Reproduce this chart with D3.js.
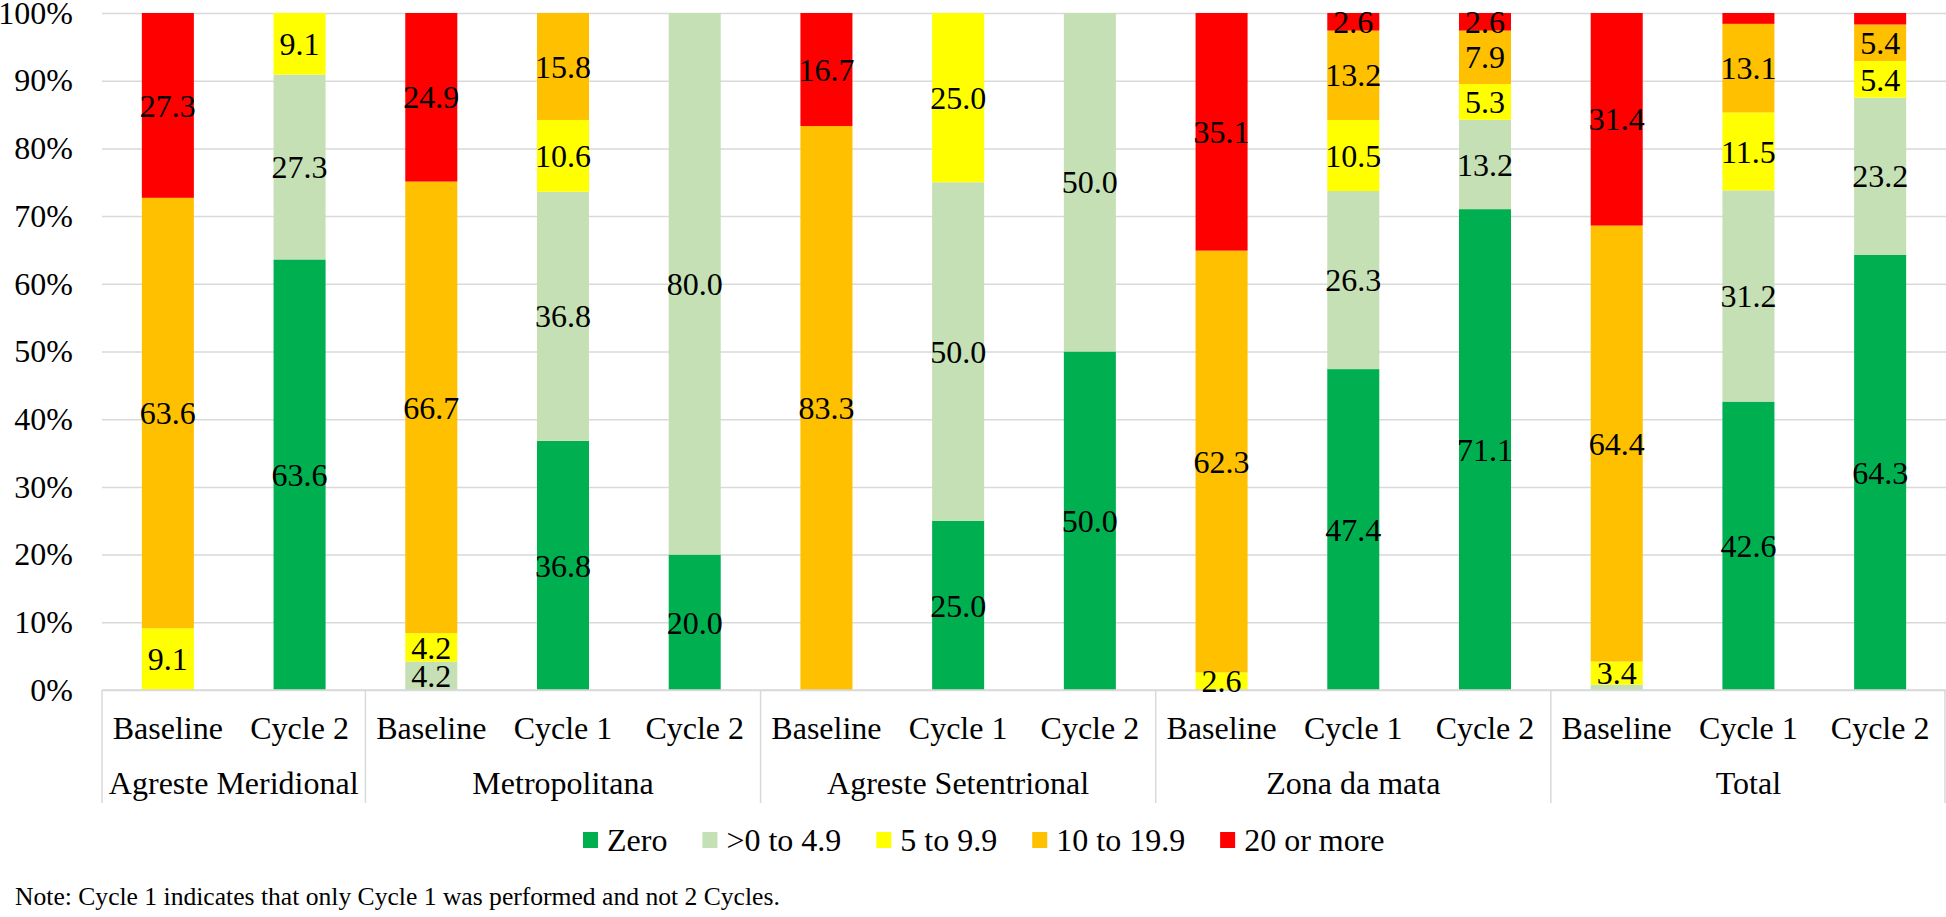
<!DOCTYPE html>
<html>
<head>
<meta charset="utf-8">
<script src="https://cdn.jsdelivr.net/npm/d3@7/dist/d3.min.js"></script>
<style>
  html, body { margin: 0; padding: 0; background: #fff; }
  svg { display: block; }
</style>
</head>
<body>
<svg id="chart" width="1946" height="917"></svg>
<script>
// ---- DATA ----
const groups = ["Agreste Meridional", "Metropolitana", "Agreste Setentrional", "Zona da mata", "Total"];
const groupPeriods = [
  ["Baseline", "Cycle 2"],
  ["Baseline", "Cycle 1", "Cycle 2"],
  ["Baseline", "Cycle 1", "Cycle 2"],
  ["Baseline", "Cycle 1", "Cycle 2"],
  ["Baseline", "Cycle 1", "Cycle 2"]
];
const seriesNames = ["Zero", ">0 to 4.9", "5 to 9.9", "10 to 19.9", "20 or more"];
const seriesColors = ["#00b050", "#c5e0b4", "#ffff00", "#ffc000", "#ff0000"];
const zeroVals  = [0, 63.6,   0, 36.8, 20.0,   0, 25.0, 50.0,   0, 47.4, 71.1,   0, 42.6, 64.3];
const lowVals   = [0, 27.3, 4.2, 36.8, 80.0,   0, 50.0, 50.0,   0, 26.3, 13.2, 0.8, 31.2, 23.2];
const midVals   = [9.1, 9.1, 4.2, 10.6,   0,   0, 25.0,    0, 2.6, 10.5,  5.3, 3.4, 11.5,  5.4];
const highVals  = [63.6, 0, 66.7, 15.8,   0, 83.3,   0,    0, 62.3, 13.2, 7.9, 64.4, 13.1, 5.4];
const topVals   = [27.3, 0, 24.9,    0,   0, 16.7,   0,    0, 35.1,  2.6, 2.6, 31.4,  1.6, 1.7];
const yTickLabels = ["0%", "10%", "20%", "30%", "40%", "50%", "60%", "70%", "80%", "90%", "100%"];
const noteText = "Note: Cycle 1 indicates that only Cycle 1 was performed and not 2 Cycles.";

// ---- BUILD TABLE ----
const seriesArrays = [zeroVals, lowVals, midVals, highVals, topVals];
const rows = [];
groups.forEach((g, gi) => {
  groupPeriods[gi].forEach(p => {
    const i = rows.length;
    const r = { key: g + "|" + p, group: g, period: p };
    seriesNames.forEach((s, si) => { r[s] = seriesArrays[si][i]; });
    rows.push(r);
  });
});

// ---- LAYOUT ----
const FONT = "'Liberation Serif'";
const svg = d3.select("#chart");
const plotLeft = 102, plotRight = 1946, plotTop = 13, plotBottom = 690;
const fontSize = 32;
function styleText(sel, size) {
  return sel.style("font-family", FONT).style("font-size", (size || fontSize) + "px").attr("fill", "#000");
}

const x = d3.scaleBand().domain(rows.map(r => r.key)).range([plotLeft, plotRight])
  .paddingInner(0.605).paddingOuter(0.3025);
const y = d3.scaleLinear().domain([0, 1]).range([plotBottom, plotTop]);
const color = d3.scaleOrdinal().domain(seriesNames).range(seriesColors);

const stack = d3.stack().keys(seriesNames).offset(d3.stackOffsetExpand);
const stacked = stack(rows);

// gridlines + y labels
const yAxis = d3.axisLeft(y).tickValues(d3.range(0, 11).map(v => v / 10))
  .tickFormat((d, i) => yTickLabels[i])
  .tickSize(-(plotRight - plotLeft)).tickPadding(29);
const ya = svg.append("g").attr("transform", `translate(${plotLeft},0)`).call(yAxis);
ya.select(".domain").remove();
ya.selectAll(".tick line").attr("stroke", "#d9d9d9").attr("stroke-width", 1.5);
styleText(ya.selectAll(".tick text"));

// bars
const layer = svg.append("g").selectAll("g").data(stacked).join("g")
  .attr("fill", d => color(d.key));
layer.selectAll("rect").data(d => d.map(v => Object.assign(v, { series: d.key })))
  .join("rect")
  .attr("x", d => x(d.data.key))
  .attr("width", x.bandwidth())
  .attr("y", d => y(d[1]))
  .attr("height", d => Math.max(0, y(d[0]) - y(d[1])));

// x axis line
svg.append("line").attr("x1", plotLeft).attr("x2", plotRight)
  .attr("y1", plotBottom).attr("y2", plotBottom)
  .attr("stroke", "#d9d9d9").attr("stroke-width", 1.5);

// data labels
const labelG = svg.append("g");
stacked.forEach(s => {
  s.forEach(d => {
    const v = d.data[s.key];
    if (v < 2) return;
    styleText(labelG.append("text")
      .attr("x", x(d.data.key) + x.bandwidth() / 2)
      .attr("y", (y(d[0]) + y(d[1])) / 2)
      .attr("dy", "0.35em")
      .attr("text-anchor", "middle"))
      .text(v.toFixed(1));
  });
});

// category labels
styleText(svg.append("g").selectAll("text").data(rows).join("text")
  .attr("x", d => x(d.key) + x.bandwidth() / 2)
  .attr("y", 739)
  .attr("text-anchor", "middle"))
  .text(d => d.period);

// group labels and separators
const step = x.step();
const sepTop = plotBottom, sepBottom = 803;
let idx = 0;
const boundaries = [];
groups.forEach((g, gi) => {
  const first = rows[idx], last = rows[idx + groupPeriods[gi].length - 1];
  const x0 = x(first.key) - (step - x.bandwidth()) / 2;
  const x1 = x(last.key) + x.bandwidth() + (step - x.bandwidth()) / 2;
  boundaries.push(x0);
  if (gi === groups.length - 1) boundaries.push(Math.min(x1, plotRight - 1));
  styleText(svg.append("text").attr("x", (x0 + x1) / 2).attr("y", 794)
    .attr("text-anchor", "middle")).text(g);
  idx += groupPeriods[gi].length;
});
svg.append("g").selectAll("line").data(boundaries).join("line")
  .attr("x1", d => d).attr("x2", d => d)
  .attr("y1", sepTop).attr("y2", sepBottom)
  .attr("stroke", "#d9d9d9").attr("stroke-width", 1.5);

// legend
const legend = svg.append("g");
let lx = 583;
const ly = 840;
seriesNames.forEach((s, i) => {
  legend.append("rect").attr("x", lx).attr("y", ly - 8).attr("width", 15).attr("height", 16)
    .attr("fill", seriesColors[i]);
  const t = styleText(legend.append("text").attr("x", lx + 24).attr("y", ly).attr("dy", "0.35em")).text(s);
  lx = lx + 24 + t.node().getComputedTextLength() + 35;
});

// note
styleText(svg.append("text").attr("x", 15).attr("y", 905), 25.6).text(noteText);
</script>
</body>
</html>
